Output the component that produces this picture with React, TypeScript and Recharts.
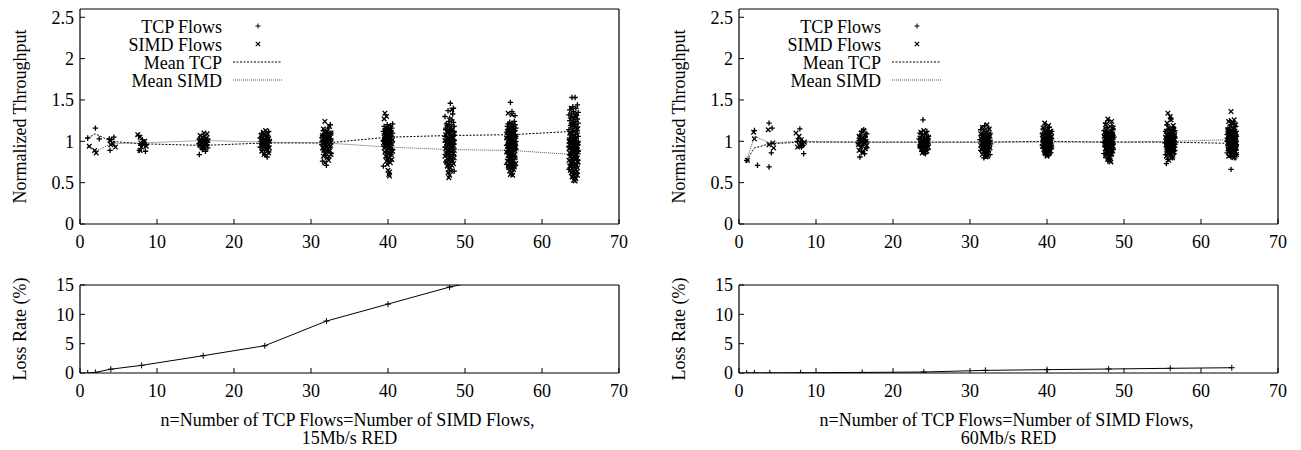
import React from 'react';
import { ComposedChart, Scatter, Line, XAxis, YAxis, Legend } from 'recharts';

const FONT = '"Liberation Serif", "Times New Roman", Times, serif';

// ---------- data ----------
const N_VALUES = [1, 2, 4, 8, 16, 24, 32, 40, 48, 56, 64];
const X_TICKS = [0, 10, 20, 30, 40, 50, 60, 70];
const THROUGHPUT_TICKS = [0, 0.5, 1, 1.5, 2, 2.5];
const LOSS_TICKS = [0, 5, 10, 15];

const MEAN_TCP_15 = [1.04, 1.09, 1.0, 0.97, 0.95, 0.98, 0.98, 1.05, 1.07, 1.08, 1.12];
const MEAN_SIMD_15 = [0.94, 0.88, 0.97, 0.98, 1.01, 0.99, 0.98, 0.93, 0.9, 0.89, 0.84];
const MEAN_TCP_60 = [0.77, 0.92, 0.97, 0.99, 0.99, 0.99, 0.99, 1.0, 0.99, 0.99, 0.975];
const MEAN_SIMD_60 = [0.77, 1.06, 0.98, 1.0, 0.99, 0.99, 0.99, 0.99, 0.99, 1.0, 1.02];

const LOSS_15 = [0, 0.1, 0.65, 1.3, 2.95, 4.65, 8.85, 11.75, 14.65, 16.8, 19.0];
const LOSS_60 = [0, 0.01, 0.02, 0.05, 0.1, 0.17, 0.45, 0.57, 0.68, 0.8, 0.9];

const TCP15_X = [
  [1.0],
  [2.0, 2.5],
  [3.9, 4.1, 4.4, 3.8],
  [7.6, 7.7, 8.5, 8.0, 8.3, 8.1, 7.9, 8.6],
  [15.5,16.3,15.9,16.6,16.0,15.6,16.2,16.5,15.4,16.1,15.8,16.4,15.7,16.6,15.9,15.5],
  [24.3,24.0,24.5,23.7,24.2,23.4,24.4,23.8,24.1,23.6,24.5,23.9,24.3,23.5,24.0,24.6,23.7,24.2,23.4,24.4,23.8,24.1,23.6,24.5],
  [32.0,31.5,32.3,31.9,32.6,31.7,32.2,31.6,32.1,32.5,31.8,32.4,31.4,32.0,32.3,31.9,32.5,31.6,32.2,31.7,32.6,32.0,31.5,32.1,31.5,32.3,31.9,32.6,32.0,31.6,32.2,32.5],
  [39.4,40.1,39.8,40.4,39.7,40.6,39.9,39.5,40.3,40.0,40.5,39.7,40.2,39.4,40.4,39.8,40.1,39.6,40.5,39.9,40.3,39.5,40.0,40.6,39.7,40.2,39.4,40.4,39.8,40.1,39.6,40.5,40.0,39.5,40.3,39.9,40.6,39.7,40.2,39.6],
  [48.1,48.5,47.8,48.4,47.4,48.0,48.3,47.9,48.5,47.6,48.2,47.7,48.6,48.0,47.5,48.1,47.5,48.3,47.9,48.6,48.0,47.6,48.2,48.5,47.4,48.1,47.8,48.4,47.7,48.6,47.9,47.5,48.3,48.0,48.5,47.7,48.2,47.4,48.4,47.8,48.1,47.6,48.5,47.9,48.3,47.5,48.0,48.6],
  [55.9,56.1,56.5,56.4,55.8,56.1,55.6,56.5,56.0,55.5,56.3,55.9,56.6,55.7,56.2,55.6,56.1,56.5,55.8,56.4,55.4,56.0,56.3,55.9,56.5,55.6,56.2,55.7,56.6,56.0,55.5,56.1,55.5,56.3,55.9,56.6,56.0,55.6,56.2,56.5,55.4,56.1,55.8,56.4,55.7,56.6,55.9,55.5,56.3,56.0,56.5,55.7,56.2,55.4,56.4,55.8],
  [63.9,64.3,64.6,64.0,64.4,63.6,64.1,64.7,63.8,64.3,63.5,64.5,63.9,64.2,63.7,64.6,64.1,63.6,64.4,64.0,64.7,63.8,64.3,63.7,64.2,64.6,63.9,64.5,63.5,64.1,64.4,64.0,64.6,63.7,64.3,63.8,64.7,64.1,63.6,64.2,63.6,64.4,64.0,64.7,64.1,63.7,64.3,64.6,63.5,64.2,63.9,64.5,63.8,64.7,64.0,63.6,64.4,64.1,64.6,63.8,64.3,63.5,64.5,63.9],
];
const TCP15_Y = [
  [1.04],
  [1.16, 1.03],
  [0.89, 1.02, 1.05, 1.03],
  [1.07, 0.89, 0.88, 0.97, 0.99, 1.02, 0.95, 0.96],
  [0.84,0.88,0.9,0.92,0.93,0.94,0.95,0.96,0.97,0.98,0.99,1.0,1.01,1.02,0.91,1.03],
  [0.81,0.84,0.87,0.89,0.91,0.93,0.94,0.95,0.96,0.97,0.98,0.98,0.99,1.0,1.0,1.01,1.02,1.03,1.04,1.05,1.06,1.08,1.1,1.12],
  [0.71,0.76,0.8,0.83,0.85,0.87,0.89,0.9,0.92,0.93,0.94,0.95,0.96,0.97,0.98,0.99,1.0,1.0,1.01,1.02,1.03,1.04,1.05,1.06,1.07,1.08,1.09,1.1,1.11,1.13,1.16,1.2],
  [0.7,0.76,0.8,0.84,0.87,0.9,0.92,0.94,0.96,0.97,0.98,0.99,1.0,1.01,1.02,1.03,1.04,1.05,1.06,1.07,1.08,1.09,1.1,1.1,1.11,1.12,1.12,1.13,1.14,1.15,1.15,1.16,1.17,1.18,1.19,1.2,1.21,1.08,1.05,1.0],
  [1.46,1.4,1.37,1.33,1.3,1.28,1.26,1.24,1.23,1.21,1.2,1.19,1.18,1.17,1.16,1.15,1.14,1.13,1.12,1.11,1.1,1.09,1.08,1.07,1.06,1.05,1.04,1.03,1.02,1.01,1.0,0.99,0.98,0.97,0.96,0.95,0.94,0.93,0.92,0.9,0.88,0.86,0.84,0.82,0.79,0.75,0.7,0.64],
  [1.47,1.36,1.31,1.24,1.23,1.22,1.21,1.2,1.19,1.18,1.18,1.17,1.16,1.16,1.15,1.14,1.14,1.13,1.12,1.12,1.11,1.1,1.1,1.09,1.08,1.08,1.07,1.06,1.06,1.05,1.04,1.04,1.03,1.02,1.01,1.0,0.99,0.98,0.97,0.96,0.95,0.94,0.93,0.92,0.91,0.9,0.88,0.86,0.84,0.82,0.8,0.78,0.75,0.72,0.69,1.11],
  [1.53,1.53,1.44,1.42,1.4,1.38,1.36,1.35,1.34,1.33,1.32,1.31,1.3,1.29,1.28,1.27,1.26,1.25,1.24,1.23,1.22,1.21,1.2,1.19,1.18,1.17,1.16,1.15,1.14,1.13,1.12,1.11,1.1,1.09,1.08,1.07,1.06,1.05,1.04,1.03,1.02,1.01,1.0,0.99,0.98,0.97,0.96,0.95,0.94,0.93,0.92,0.91,0.9,0.88,0.86,0.84,0.82,0.8,0.77,0.74,0.7,0.66,0.62,1.2],
];

const SIMD15_X = [
  [1.2],
  [1.9, 2.1],
  [3.9, 4.3, 4.6, 4.0],
  [7.5, 7.8, 8.0, 8.2, 8.4, 7.9, 8.6, 7.8],
  [16.2,15.6,16.5,15.8,16.3,15.5,16.1,16.6,15.7,16.0,16.4,15.9,16.2,15.6,16.5,16.1],
  [23.9,24.5,23.6,24.2,24.6,23.8,24.3,23.5,24.1,24.4,23.7,24.0,24.6,23.6,24.2,23.9,24.5,23.7,24.3,24.0,23.5,24.4,23.8,24.1],
  [31.8,32.4,31.6,32.1,32.6,31.9,32.3,31.5,32.0,32.5,31.7,32.2,31.4,32.4,31.9,32.6,32.1,31.6,32.3,31.8,32.5,32.0,31.5,32.2,31.7,32.4,31.9,32.6,31.6,32.1,32.3,31.8],
  [39.6,39.8,39.5,40.2,39.7,40.4,39.9,40.1,39.5,40.3,39.8,40.6,40.0,39.6,40.2,39.4,40.5,39.9,40.1,39.7,40.4,39.5,40.0,40.3,39.8,40.6,39.6,40.2,39.9,40.4,39.7,40.1,40.5,39.8,40.3,39.9,40.0,40.2,40.1,40.2],
  [48.3,47.7,48.4,47.9,48.6,47.5,48.1,48.5,47.8,48.2,47.4,48.0,48.6,47.6,48.3,47.9,48.5,47.7,48.1,48.4,47.5,48.0,48.6,47.8,48.2,47.6,48.5,47.9,48.3,47.4,48.1,48.6,47.7,48.2,47.9,48.4,47.6,48.0,48.5,47.8,48.3,47.7,48.1,47.9,48.2,47.8,48.0,47.9],
  [55.6,56.1,55.9,56.4,55.5,56.2,55.8,56.6,56.0,55.4,56.3,55.7,56.5,55.9,56.1,55.6,56.4,55.8,56.2,55.5,56.6,56.0,55.7,56.3,55.9,56.5,55.4,56.1,55.8,56.4,55.6,56.2,55.9,56.5,55.7,56.0,56.3,55.5,56.1,55.8,56.6,55.9,56.2,55.6,56.4,55.7,56.0,56.3,55.8,56.1,55.9,56.2,56.5,55.6,56.0,56.3],
  [63.8,64.4,64.0,64.6,63.6,64.2,64.5,63.9,64.3,63.5,64.1,64.7,63.7,64.4,64.0,64.6,63.8,64.2,63.5,64.5,64.1,63.9,64.7,63.6,64.3,64.0,64.5,63.7,64.2,64.6,63.9,64.4,63.5,64.1,64.7,63.8,64.3,64.0,64.5,63.6,64.2,64.6,63.9,64.4,63.7,64.1,64.5,63.8,64.3,64.0,64.6,64.2,63.9,64.4,64.1,64.3,64.5,63.7,64.0,64.6,63.8,64.2,63.6,64.4],
];
const SIMD15_Y = [
  [0.94],
  [0.89, 0.86],
  [1.01, 0.97, 0.93, 0.96],
  [1.08, 1.05, 0.93, 0.96, 1.0, 0.98, 0.94, 0.89],
  [0.92,0.95,0.97,0.98,0.99,1.0,1.0,1.01,1.02,1.03,1.04,1.05,1.06,1.07,1.09,1.1],
  [0.84,0.86,0.88,0.9,0.92,0.93,0.94,0.95,0.96,0.97,0.98,0.99,1.0,1.0,1.01,1.02,1.03,1.04,1.05,1.06,1.07,1.09,1.11,1.13],
  [1.24,1.18,1.15,1.12,1.1,1.09,1.08,1.07,1.06,1.05,1.04,1.03,1.02,1.01,1.0,0.99,0.98,0.97,0.96,0.95,0.94,0.93,0.92,0.91,0.9,0.88,0.86,0.84,0.82,0.8,0.77,0.74],
  [1.34,1.3,1.27,1.15,1.12,1.1,1.08,1.06,1.05,1.04,1.03,1.02,1.01,1.0,0.99,0.98,0.97,0.96,0.95,0.94,0.93,0.92,0.91,0.9,0.89,0.88,0.87,0.86,0.85,0.84,0.82,0.8,0.78,0.76,0.74,0.72,0.65,0.63,0.6,0.58],
  [1.38,1.2,1.15,1.12,1.1,1.08,1.06,1.04,1.03,1.02,1.01,1.0,0.99,0.98,0.97,0.96,0.95,0.94,0.93,0.92,0.91,0.9,0.89,0.88,0.87,0.86,0.85,0.84,0.83,0.82,0.81,0.8,0.79,0.78,0.77,0.76,0.75,0.74,0.73,0.72,0.71,0.7,0.68,0.66,0.64,0.62,0.59,0.56],
  [1.34,1.32,1.2,1.15,1.12,1.1,1.08,1.06,1.05,1.04,1.03,1.02,1.01,1.0,0.99,0.98,0.97,0.96,0.95,0.94,0.93,0.92,0.91,0.9,0.89,0.88,0.87,0.86,0.85,0.84,0.83,0.82,0.81,0.8,0.79,0.78,0.77,0.76,0.75,0.74,0.73,0.72,0.71,0.7,0.69,0.68,0.67,0.66,0.64,0.62,0.6,0.59,0.95,0.9,0.85,1.0],
  [1.4,1.3,1.2,1.15,1.1,1.07,1.05,1.03,1.01,1.0,0.99,0.98,0.97,0.96,0.95,0.94,0.93,0.92,0.91,0.9,0.89,0.88,0.87,0.86,0.85,0.84,0.83,0.82,0.81,0.8,0.79,0.78,0.77,0.76,0.75,0.74,0.73,0.72,0.71,0.7,0.69,0.68,0.67,0.66,0.65,0.64,0.63,0.62,0.61,0.6,0.59,0.58,0.57,0.55,0.53,0.52,0.9,0.85,0.8,0.75,0.7,0.95,1.0,0.88],
];

const TCP60_X = [
  [1.0],
  [2.0, 2.4],
  [3.9, 4.3, 3.9, 4.2],
  [7.9, 8.4, 8.0, 7.6, 8.3, 7.7, 8.2, 8.1],
  [15.7,16.3,15.9,16.6,16.0,15.5,16.2,16.5,15.6,16.1,15.8,16.4,15.7,16.6,15.9,16.2],
  [23.9,24.4,23.5,24.1,24.6,23.7,24.3,23.4,24.0,24.5,23.8,24.2,23.6,24.6,23.9,24.4,23.5,24.1,24.3,23.7,24.5,23.8,24.0,24.2],
  [31.9,32.4,31.4,32.1,32.6,31.7,32.3,31.5,32.0,32.5,31.8,32.2,31.3,32.6,31.9,32.4,31.6,32.1,32.7,31.8,32.3,31.5,32.0,32.5,31.7,32.2,31.4,32.4,31.9,32.6,32.1,31.8],
  [39.8,40.3,39.5,40.1,40.6,39.7,40.2,39.4,40.0,40.5,39.9,40.3,39.6,40.6,39.8,40.1,39.5,40.4,40.0,39.7,40.5,39.9,40.2,39.4,40.3,39.8,40.6,40.0,39.6,40.4,39.9,40.1,39.7,40.5,40.0,39.8,40.2,39.6,40.4,40.1],
  [48.0,47.6,48.4,47.8,48.6,47.4,48.2,47.9,48.5,47.7,48.3,47.5,48.1,48.7,47.8,48.4,47.6,48.2,47.9,48.5,47.3,48.0,48.6,47.7,48.3,47.5,48.1,48.4,47.8,48.6,47.6,48.2,47.9,48.5,47.4,48.0,48.3,47.7,48.1,47.9,48.2,47.8,48.4,47.6,48.0,48.5,47.7,48.3],
  [56.1,55.6,56.4,55.8,56.6,55.4,56.2,55.9,56.5,55.7,56.3,55.5,56.0,56.6,55.8,56.4,55.6,56.2,55.9,56.5,55.3,56.0,56.6,55.7,56.3,55.5,56.1,56.4,55.8,56.6,55.6,56.2,55.9,56.5,55.4,56.0,56.3,55.7,55.5,56.1,55.8,56.4,55.6,56.0,56.5,55.7,56.3,55.9,56.2,55.8,56.4,55.6,56.1,56.0,55.9,56.3],
  [63.7,64.3,63.9,64.5,63.5,64.1,64.4,63.8,64.2,63.4,64.0,64.6,63.6,64.3,63.9,64.5,63.7,64.1,63.4,64.4,64.0,63.8,64.6,63.5,64.2,63.9,64.4,63.6,64.1,64.5,63.8,64.3,63.4,64.0,64.6,63.7,64.2,63.9,64.4,63.9,64.1,64.5,63.8,64.3,63.6,64.0,64.4,63.7,64.2,63.9,64.5,64.1,63.8,64.3,64.0,64.2,64.4,63.6,63.9,64.5,63.7,64.1,63.5,64.3],
];
const TCP60_Y = [
  [0.77],
  [1.13, 0.71],
  [1.22, 1.16, 0.69, 0.86],
  [1.15, 0.85, 0.97, 1.0, 0.95, 1.03, 0.99, 0.93],
  [0.81,0.85,0.88,0.92,0.95,0.97,0.98,1.0,1.01,1.02,1.03,1.05,1.07,1.09,1.12,1.14],
  [1.26,1.12,1.1,1.08,1.06,1.05,1.04,1.03,1.02,1.01,1.0,0.99,0.98,0.97,0.96,0.95,0.94,0.93,0.92,0.91,0.9,0.88,0.86,0.85],
  [1.19,1.16,1.14,1.12,1.1,1.09,1.08,1.07,1.06,1.05,1.04,1.03,1.02,1.01,1.0,1.0,0.99,0.98,0.97,0.96,0.95,0.94,0.93,0.92,0.91,0.9,0.89,0.88,0.86,0.84,0.82,0.8],
  [1.2,1.17,1.15,1.13,1.12,1.11,1.1,1.09,1.08,1.07,1.06,1.05,1.04,1.03,1.02,1.02,1.01,1.0,1.0,0.99,0.98,0.97,0.96,0.95,0.95,0.94,0.93,0.92,0.91,0.9,0.89,0.88,0.87,0.86,0.85,0.84,0.83,1.0,0.97,1.04],
  [1.25,1.22,1.19,1.17,1.15,1.13,1.12,1.11,1.1,1.09,1.08,1.07,1.06,1.05,1.04,1.03,1.02,1.01,1.0,1.0,0.99,0.98,0.97,0.96,0.95,0.94,0.93,0.92,0.91,0.9,0.89,0.88,0.87,0.86,0.85,0.84,0.82,0.8,0.78,0.76,1.0,1.02,0.98,1.05,0.95,1.08,0.93,1.01],
  [1.27,1.2,1.17,1.15,1.13,1.12,1.11,1.1,1.09,1.08,1.07,1.06,1.05,1.04,1.03,1.02,1.01,1.0,1.0,0.99,0.98,0.97,0.96,0.95,0.94,0.93,0.92,0.91,0.9,0.89,0.88,0.87,0.86,0.85,0.84,0.82,0.8,0.78,0.73,1.0,1.02,0.98,1.05,0.95,1.08,0.93,1.01,0.97,1.03,0.99,1.06,0.9,1.14,0.96,1.04,0.92],
  [1.25,1.22,1.2,1.18,1.16,1.14,1.12,1.1,1.09,1.08,1.07,1.06,1.05,1.04,1.03,1.02,1.01,1.0,1.0,0.99,0.98,0.97,0.96,0.95,0.94,0.93,0.92,0.91,0.9,0.89,0.88,0.87,0.86,0.85,0.84,0.83,0.82,0.81,0.8,0.66,1.0,0.98,0.96,0.94,0.92,0.9,1.02,1.04,0.97,0.95,0.93,0.99,1.01,0.88,0.86,1.06,0.91,0.89,0.87,1.0,0.95,0.98,1.03,0.85],
];

const SIMD60_X = [
  [1.1],
  [1.9, 2.0],
  [3.8, 3.9, 4.5, 4.4],
  [7.4, 7.8, 8.1, 7.6, 8.3, 7.9, 8.5, 8.2],
  [16.1,15.6,16.4,15.8,16.6,15.5,16.2,15.9,16.5,15.7,16.3,16.0,15.6,16.4,15.9,16.2],
  [24.0,23.6,24.3,23.8,24.6,23.5,24.2,23.9,24.5,23.7,24.1,24.4,23.6,24.0,23.8,24.3,23.5,24.6,23.9,24.2,23.7,24.4,24.1,23.8],
  [32.2,31.6,32.5,31.8,32.0,31.4,32.3,31.9,32.6,31.7,32.1,31.5,32.4,31.9,32.2,31.6,32.5,31.8,32.0,31.4,32.3,31.7,32.6,32.1,31.5,32.4,31.8,32.0,32.2,31.6,32.3,32.1],
  [39.7,40.2,39.5,40.0,40.5,39.8,40.3,39.4,40.1,40.6,39.6,40.2,39.9,40.4,39.5,40.0,40.5,39.7,40.3,39.8,40.1,39.4,40.6,39.9,40.2,39.6,40.4,40.0,39.7,40.3,39.8,40.1,40.0,39.6,40.4,39.9,40.2,39.5,40.3,40.0],
  [47.9,48.4,47.6,48.2,48.6,47.7,48.3,47.5,48.0,48.5,47.8,48.1,47.4,48.6,47.9,48.3,47.6,48.2,48.5,47.7,48.0,48.4,47.5,48.1,48.6,47.8,48.3,47.6,48.0,48.5,47.7,48.2,47.9,48.4,47.6,48.1,48.0,48.2,48.3,47.8,48.4,47.7,48.1,48.5,47.9,48.2,47.6,48.0],
  [55.7,56.0,56.1,55.6,56.4,55.8,56.5,55.5,56.2,55.9,56.6,55.7,56.3,55.4,56.0,56.5,55.8,56.2,55.6,56.4,55.9,56.1,55.5,56.6,55.8,56.3,55.7,56.0,56.5,55.6,56.2,55.9,56.4,55.7,56.1,55.5,56.3,55.8,56.0,56.6,55.6,56.2,55.9,56.4,55.7,56.1,56.5,55.8,56.0,56.3,55.6,56.2,55.9,56.4,55.7,56.1],
  [63.9,64.3,63.6,64.1,64.5,63.8,64.2,63.5,64.0,64.4,63.7,64.6,64.1,63.6,64.3,63.9,64.5,63.8,64.2,63.4,64.0,64.4,63.7,64.1,64.6,63.6,64.3,63.9,64.5,63.8,64.2,63.5,64.0,64.4,63.7,64.1,64.6,63.6,64.3,63.9,64.5,63.8,64.2,63.5,64.0,64.4,63.7,64.1,64.6,63.6,64.3,63.9,64.5,63.8,64.2,63.5,64.0,64.4,63.7,64.1,64.3,63.9,64.2,64.0],
];
const SIMD60_Y = [
  [0.77],
  [1.11, 1.03],
  [1.14, 0.96, 0.92, 0.98],
  [1.1, 1.06, 1.02, 0.93, 0.97, 0.94, 0.99, 0.96],
  [0.86,0.89,0.91,0.93,0.95,0.96,0.98,0.99,1.0,1.01,1.03,1.04,1.06,1.08,1.1,1.13],
  [1.13,1.11,1.09,1.07,1.05,1.04,1.03,1.02,1.01,1.0,1.0,0.99,0.98,0.97,0.96,0.95,0.94,0.93,0.92,0.91,0.9,0.88,0.87,0.86],
  [1.2,1.17,1.15,1.13,1.11,1.09,1.08,1.07,1.06,1.05,1.04,1.03,1.02,1.01,1.0,0.99,0.98,0.97,0.96,0.95,0.94,0.93,0.92,0.91,0.9,0.89,0.88,0.87,0.86,0.84,0.82,0.81],
  [1.22,1.19,1.16,1.14,1.12,1.1,1.09,1.08,1.07,1.06,1.05,1.04,1.03,1.02,1.01,1.0,0.99,0.98,0.97,0.96,0.95,0.94,0.93,0.92,0.91,0.9,0.89,0.88,0.87,0.86,0.85,0.84,0.82,1.0,1.01,0.99,0.96,1.03,0.94,1.06],
  [1.27,1.24,1.2,1.18,1.16,1.14,1.12,1.11,1.1,1.09,1.08,1.07,1.06,1.05,1.04,1.03,1.02,1.01,1.0,0.99,0.98,0.97,0.96,0.95,0.94,0.93,0.92,0.91,0.9,0.89,0.88,0.87,0.86,0.85,0.83,0.81,0.79,0.77,0.75,1.0,0.97,1.03,0.99,1.06,0.94,1.01,0.96,1.04],
  [1.34,1.3,1.26,1.22,1.19,1.16,1.14,1.12,1.1,1.09,1.08,1.07,1.06,1.05,1.04,1.03,1.02,1.01,1.0,0.99,0.98,0.97,0.96,0.95,0.94,0.93,0.92,0.91,0.9,0.89,0.88,0.87,0.86,0.85,0.84,0.82,0.8,0.77,1.0,1.02,0.98,1.05,0.95,0.93,1.01,0.97,1.03,0.99,0.9,0.96,1.04,0.92,0.94,1.0,0.88,1.07],
  [1.36,1.26,1.24,1.22,1.2,1.18,1.16,1.14,1.13,1.12,1.11,1.1,1.09,1.08,1.07,1.06,1.05,1.04,1.03,1.02,1.01,1.0,1.0,0.99,0.98,0.97,0.96,0.95,0.94,0.93,0.92,0.91,0.9,0.89,0.88,0.86,0.84,0.82,0.8,1.0,1.02,1.04,1.06,0.98,0.96,1.08,1.1,0.94,0.92,1.01,1.03,0.99,0.97,1.05,0.95,1.12,0.9,1.07,1.0,0.93,1.15,0.88,1.02,0.97],
];

// ---------- helpers ----------
function zipClusters(xs: number[][], ys: number[][]) {
  const out: { x: number; y: number }[] = [];
  xs.forEach((cx, i) => {
    const cy = ys[i] || [];
    const n = Math.min(cx.length, cy.length);
    for (let k = 0; k < n; k++) out.push({ x: cx[k], y: cy[k] });
  });
  return out;
}
const byN = (vals: number[]) => N_VALUES.map((n, i) => ({ x: n, y: vals[i] }));

const plusPath = (cx: number, cy: number, r: number) =>
  `M${cx - r},${cy}H${cx + r}M${cx},${cy - r}V${cy + r}`;
const crossPath = (cx: number, cy: number, r: number) =>
  `M${cx - r},${cy - r}L${cx + r},${cy + r}M${cx - r},${cy + r}L${cx + r},${cy - r}`;

const MARK_W = 1.3;
const PlusShape = (p: any) => (
  <path d={plusPath(p.cx, p.cy, 2.7)} stroke="#000" strokeWidth={MARK_W} fill="none" />
);
const CrossShape = (p: any) => (
  <path d={crossPath(p.cx, p.cy, 2.3)} stroke="#000" strokeWidth={MARK_W} fill="none" />
);
const LossDot = (p: any) => (
  <path key={`ld-${p.index}`} d={plusPath(p.cx, p.cy, 3)} stroke="#000" strokeWidth={1} fill="none" />
);

const AXIS_LINE = { stroke: '#000', strokeWidth: 1.2 };
const TICK_LINE = { stroke: '#000', strokeWidth: 1 };
const TICK_STYLE = { fill: '#000', fontSize: 18, fontFamily: FONT };

const TCP_DASH = '2 1.5';
const SIMD_DASH = '1 1';
const SIMD_STROKE = '#555';

const yTitle = (title: string) => (props: any) => {
  const vb = props.viewBox || { x: 0, y: 0, width: 80, height: 100 };
  const x = vb.x + 25.5;
  const y = vb.y + vb.height / 2;
  return (
    <text
      x={x}
      y={y}
      transform={`rotate(-90 ${x} ${y})`}
      textAnchor="middle"
      fontFamily={FONT}
      fontSize={18}
      fill="#000"
    >
      {title}
    </text>
  );
};

const xTitle = (line1: string, line2: string) => (props: any) => {
  const vb = props.viewBox || { x: 80, y: 98, width: 540, height: 77 };
  const cx = vb.x + vb.width / 2;
  return (
    <text textAnchor="middle" fontFamily={FONT} fontSize={18} fill="#000">
      <tspan x={cx - 2} y={vb.y + 52.5}>{line1}</tspan>
      <tspan x={cx} y={vb.y + 70.5}>{line2}</tspan>
    </text>
  );
};

const LEGEND_ROWS = [
  { label: 'TCP Flows', kind: 'plus' },
  { label: 'SIMD Flows', kind: 'cross' },
  { label: 'Mean TCP', kind: 'tcpline' },
  { label: 'Mean SIMD', kind: 'simdline' },
];

const ThroughputLegend = () => (
  <svg width={300} height={95} style={{ display: 'block', overflow: 'visible' }}>
    {LEGEND_ROWS.map((row, i) => {
      const base = 32.5 + i * 18;
      const cy = base - 6.5;
      let sample: React.ReactNode = null;
      if (row.kind === 'plus')
        sample = <path d={plusPath(258, cy, 2.5)} stroke="#000" strokeWidth={1} fill="none" />;
      else if (row.kind === 'cross')
        sample = <path d={crossPath(258, cy, 2.2)} stroke="#000" strokeWidth={1.2} fill="none" />;
      else if (row.kind === 'tcpline')
        sample = <line x1={233} x2={282} y1={cy} y2={cy} stroke="#000" strokeDasharray={TCP_DASH} />;
      else
        sample = <line x1={233} x2={283} y1={cy} y2={cy} stroke={SIMD_STROKE} strokeDasharray={SIMD_DASH} />;
      return (
        <g key={row.label}>
          <text x={222} y={base} textAnchor="end" fontFamily={FONT} fontSize={18} fill="#000">
            {row.label}
          </text>
          {sample}
        </g>
      );
    })}
  </svg>
);

function ThroughputChart(props: { tcp: any[]; simd: any[]; meanTcp: any[]; meanSimd: any[] }) {
  return (
    <ComposedChart width={640} height={260} margin={{ top: 8, right: 20, bottom: 0, left: 0 }}>
      <XAxis
        xAxisId="b" dataKey="x" type="number" domain={[0, 70]} ticks={X_TICKS} interval={0}
        allowDataOverflow orientation="bottom" height={36} tickSize={-5} tickMargin={16}
        axisLine={AXIS_LINE} tickLine={TICK_LINE} tick={TICK_STYLE}
      />
      <XAxis
        xAxisId="t" dataKey="x" type="number" domain={[0, 70]} ticks={X_TICKS} interval={0}
        allowDataOverflow orientation="top" height={1} tickSize={-5}
        axisLine={AXIS_LINE} tickLine={TICK_LINE} tick={false}
      />
      <YAxis
        yAxisId="l" dataKey="y" type="number" domain={[0, 2.6]} ticks={THROUGHPUT_TICKS} interval={0}
        allowDataOverflow width={80} tickSize={-5} tickMargin={11}
        axisLine={AXIS_LINE} tickLine={TICK_LINE} tick={TICK_STYLE}
        label={yTitle('Normalized Throughput')}
      />
      <YAxis
        yAxisId="r" dataKey="y" type="number" orientation="right" domain={[0, 2.6]} ticks={THROUGHPUT_TICKS}
        interval={0} allowDataOverflow width={1} tickSize={-5}
        axisLine={AXIS_LINE} tickLine={TICK_LINE} tick={false}
      />
      <Legend
        content={ThroughputLegend}
        layout="horizontal"
        verticalAlign="middle"
        align="center"
        wrapperStyle={{ left: 0, top: 0, width: 300, height: 95 }}
      />
      <Scatter xAxisId="b" yAxisId="l" data={props.tcp} dataKey="y" shape={PlusShape} isAnimationActive={false} />
      <Scatter xAxisId="b" yAxisId="l" data={props.simd} dataKey="y" shape={CrossShape} isAnimationActive={false} />
      <Line
        xAxisId="b" yAxisId="l" data={props.meanTcp} dataKey="y" type="linear" stroke="#000" strokeWidth={1}
        strokeDasharray={TCP_DASH} dot={false} activeDot={false} isAnimationActive={false}
      />
      <Line
        xAxisId="b" yAxisId="l" data={props.meanSimd} dataKey="y" type="linear" stroke={SIMD_STROKE} strokeWidth={1}
        strokeDasharray={SIMD_DASH} dot={false} activeDot={false} isAnimationActive={false}
      />
    </ComposedChart>
  );
}

function LossChart(props: { loss: any[]; caption: string }) {
  return (
    <ComposedChart width={640} height={175} margin={{ top: 9, right: 20, bottom: 0, left: 0 }}>
      <XAxis
        xAxisId="b" dataKey="x" type="number" domain={[0, 70]} ticks={X_TICKS} interval={0}
        allowDataOverflow orientation="bottom" height={77} tickSize={-5} tickMargin={16}
        axisLine={AXIS_LINE} tickLine={TICK_LINE} tick={TICK_STYLE}
        label={xTitle('n=Number of TCP Flows=Number of SIMD Flows,', props.caption)}
      />
      <XAxis
        xAxisId="t" dataKey="x" type="number" domain={[0, 70]} ticks={X_TICKS} interval={0}
        allowDataOverflow orientation="top" height={1} tickSize={-5}
        axisLine={AXIS_LINE} tickLine={TICK_LINE} tick={false}
      />
      <YAxis
        yAxisId="l" dataKey="y" type="number" domain={[0, 15]} ticks={LOSS_TICKS} interval={0}
        allowDataOverflow width={80} tickSize={-5} tickMargin={11}
        axisLine={AXIS_LINE} tickLine={TICK_LINE} tick={TICK_STYLE}
        label={yTitle('Loss Rate (%)')}
      />
      <YAxis
        yAxisId="r" dataKey="y" type="number" orientation="right" domain={[0, 15]} ticks={LOSS_TICKS}
        interval={0} allowDataOverflow width={1} tickSize={-5}
        axisLine={AXIS_LINE} tickLine={TICK_LINE} tick={false}
      />
      <Line
        xAxisId="b" yAxisId="l" data={props.loss} dataKey="y" type="linear" stroke="#000" strokeWidth={1}
        dot={LossDot} activeDot={false} isAnimationActive={false}
      />
    </ComposedChart>
  );
}

const tcp15 = zipClusters(TCP15_X, TCP15_Y);
const simd15 = zipClusters(SIMD15_X, SIMD15_Y);
const tcp60 = zipClusters(TCP60_X, TCP60_Y);
const simd60 = zipClusters(SIMD60_X, SIMD60_Y);

export default function App() {
  const panel = (left: number, tcp: any[], simd: any[], mt: number[], ms: number[], loss: number[], caption: string) => (
    <>
      <div style={{ position: 'absolute', left, top: 0 }}>
        <ThroughputChart tcp={tcp} simd={simd} meanTcp={byN(mt)} meanSimd={byN(ms)} />
      </div>
      <div style={{ position: 'absolute', left, top: 275 }}>
        <LossChart loss={byN(loss)} caption={caption} />
      </div>
    </>
  );
  return (
    <div style={{ position: 'absolute', left: 0, top: 0, width: 1301, height: 450, background: '#fff', overflow: 'hidden' }}>
      {panel(0, tcp15, simd15, MEAN_TCP_15, MEAN_SIMD_15, LOSS_15, '15Mb/s RED')}
      {panel(659, tcp60, simd60, MEAN_TCP_60, MEAN_SIMD_60, LOSS_60, '60Mb/s RED')}
    </div>
  );
}
